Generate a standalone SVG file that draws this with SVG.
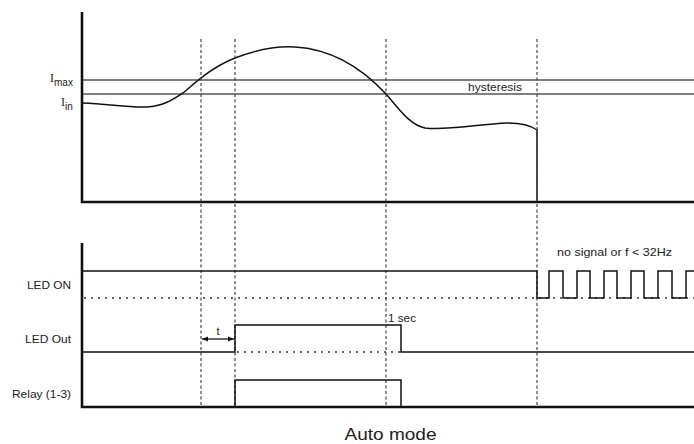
<svg xmlns="http://www.w3.org/2000/svg" width="694" height="444" viewBox="0 0 694 444">
<style>
.axis{stroke:#111;stroke-width:2.6;fill:none}
.lvl{stroke:#555;stroke-width:1.4;fill:none}
.vd{stroke:#444;stroke-width:1.2;stroke-dasharray:3,2.5;fill:none}
.dot{stroke:#333;stroke-width:1.3;stroke-dasharray:2,5;fill:none}
.sig{stroke:#111;stroke-width:1.5;fill:none}
.lbl{font-family:"Liberation Sans",Arial,sans-serif;font-size:11px;fill:#222}
.ser{font-family:"Liberation Serif","Times New Roman",serif;font-size:12px;fill:#222}
</style>
<defs>
<marker id="ah" viewBox="0 0 10 10" refX="10" refY="5" markerWidth="6" markerHeight="6" orient="auto-start-reverse" markerUnits="userSpaceOnUse">
<path d="M0,1 L10,5 L0,9 Z" fill="#111"/>
</marker>
</defs>
<rect width="694" height="444" fill="#fff"/>

<g id="top-chart">
<line class="lvl" x1="82" y1="80" x2="694" y2="80"/>
<line class="lvl" x1="82" y1="94" x2="694" y2="94"/>
<path class="sig" d="M82,103 C110,104 128,108 147,107 C163,106 172,100 183,93 C195,83 212,67 235,58 C258,49 278,46 295,47 C330,49 360,66 386,94 C400,110 410,125 425,128 C445,131 480,124 507,123 C521,123 530,125 537,130 L537,202"/>
<text class="ser" x="50" y="82">I<tspan font-size="10" font-family="Liberation Sans, Arial, sans-serif" dy="4">max</tspan></text>
<text class="ser" x="61" y="106">I<tspan font-size="10" font-family="Liberation Sans, Arial, sans-serif" dy="4">in</tspan></text>
<text class="lbl" x="468" y="91" textLength="54" lengthAdjust="spacingAndGlyphs">hysteresis</text>
<path class="axis" d="M82,12 L82,202 L694,202"/>
</g>

<g id="time-markers">
<line class="vd" x1="201" y1="39" x2="201" y2="407"/>
<line class="vd" x1="235" y1="39" x2="235" y2="407"/>
<line class="vd" x1="386" y1="39" x2="386" y2="407"/>
<line class="vd" x1="537" y1="39" x2="537" y2="407"/>
</g>

<g id="led-on">
<text class="lbl" x="71" y="289" text-anchor="end" textLength="44" lengthAdjust="spacingAndGlyphs">LED ON</text>
<line class="dot" x1="84" y1="298" x2="694" y2="298"/>
<path class="sig" d="M82,271 L537,271 L537,298 L549,298 L549,271 L563,271 L563,298 L577,298 L577,271 L590,271 L590,298 L604,298 L604,271 L617,271 L617,298 L631,298 L631,271 L644,271 L644,298 L658,298 L658,271 L672,271 L672,298 L686,298 L686,271 L694,271"/>
<text class="lbl" x="557" y="256" textLength="115" lengthAdjust="spacingAndGlyphs">no signal or f &lt; 32Hz</text>
</g>

<g id="led-out">
<text class="lbl" x="71" y="343" text-anchor="end" textLength="46" lengthAdjust="spacingAndGlyphs">LED Out</text>
<line class="dot" x1="237" y1="352" x2="400" y2="352"/>
<path class="sig" d="M82,352 L235,352 L235,325 L401,325 L401,352 L694,352"/>
<text class="lbl" x="388" y="322" textLength="28" lengthAdjust="spacingAndGlyphs">1 sec</text>
</g>

<g id="delay-t">
<line stroke="#111" stroke-width="1.3" x1="202" y1="339" x2="234" y2="339" marker-start="url(#ah)" marker-end="url(#ah)"/>
<text class="lbl" x="218" y="335" text-anchor="middle">t</text>
</g>

<g id="relay">
<text class="lbl" x="71" y="398" text-anchor="end" textLength="59" lengthAdjust="spacingAndGlyphs">Relay (1-3)</text>
<path class="sig" d="M235,407 L235,380 L401,380 L401,407"/>
<path class="axis" d="M82,243 L82,407 L694,407"/>
</g>

<text class="lbl" x="390.5" y="440" text-anchor="middle" textLength="92" lengthAdjust="spacingAndGlyphs" style="font-size:16px">Auto mode</text>
</svg>
